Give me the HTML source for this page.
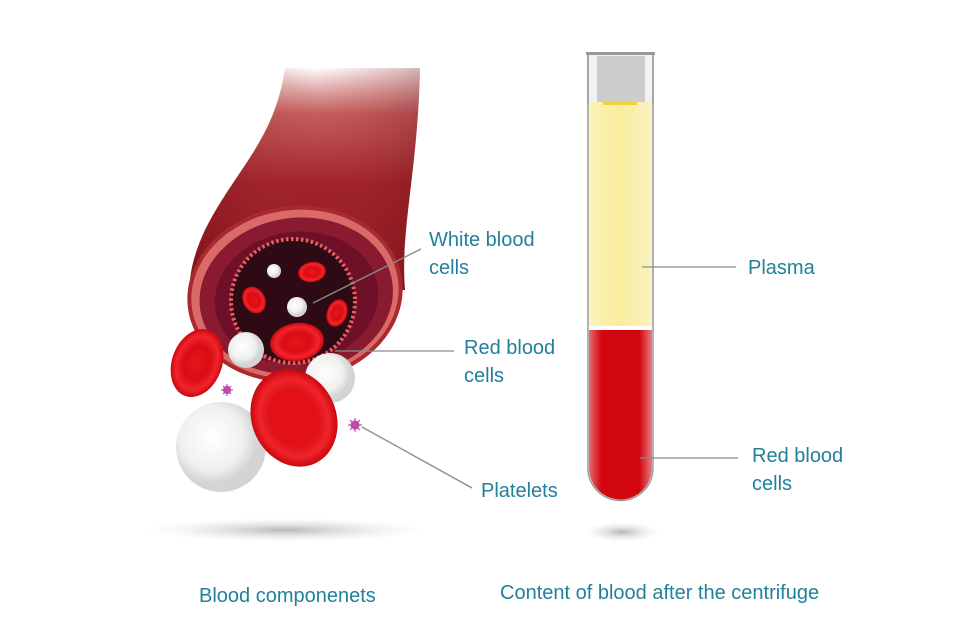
<!DOCTYPE html>
<html><head><meta charset="utf-8"><style>
html,body{margin:0;padding:0;background:#fff;}
svg{display:block}
text{font-family:"Liberation Sans",sans-serif;fill:#22809a;font-size:20px}
</style></head><body>
<svg width="960" height="638" viewBox="0 0 960 638" xmlns="http://www.w3.org/2000/svg">
<defs>
<linearGradient id="vfade" x1="0" y1="0" x2="0" y2="1">
<stop offset="0" stop-color="#fff" stop-opacity="1"/>
<stop offset="0.2" stop-color="#b84040" stop-opacity="0.85"/>
<stop offset="0.5" stop-color="#a0222a"/>
<stop offset="1" stop-color="#88161e"/>
</linearGradient>
<linearGradient id="vside" x1="0" y1="0" x2="1" y2="0">
<stop offset="0" stop-color="#6e0c14" stop-opacity="0.7"/>
<stop offset="0.55" stop-color="#c0403a" stop-opacity="0"/>
<stop offset="1" stop-color="#6e0c14" stop-opacity="0.5"/>
</linearGradient>
<radialGradient id="shadow"><stop offset="0" stop-color="#999" stop-opacity="0.7"/><stop offset="1" stop-color="#ddd" stop-opacity="0"/></radialGradient>
<radialGradient id="rbc"><stop offset="0" stop-color="#e8161c"/><stop offset="0.5" stop-color="#d80c14"/><stop offset="0.8" stop-color="#f0242a"/><stop offset="1" stop-color="#c8080f"/></radialGradient>
<radialGradient id="wbc" cx="0.4" cy="0.4"><stop offset="0" stop-color="#fff"/><stop offset="0.7" stop-color="#f0f0ee"/><stop offset="1" stop-color="#d4d4d4"/></radialGradient>
<linearGradient id="yel" x1="0" x2="1"><stop offset="0" stop-color="#fbf3b8"/><stop offset="0.5" stop-color="#f8ec9c"/><stop offset="1" stop-color="#fbf3c4"/></linearGradient>
<linearGradient id="red" x1="0" x2="1"><stop offset="0" stop-color="#e86a70"/><stop offset="0.2" stop-color="#d2060f"/><stop offset="0.8" stop-color="#d2060f"/><stop offset="1" stop-color="#e87a80"/></linearGradient>
</defs>

<ellipse cx="285" cy="530" rx="140" ry="12" fill="url(#shadow)"/>
<ellipse cx="622" cy="532" rx="38" ry="10" fill="url(#shadow)"/>

<path d="M285,68 C275,140 235,170 205,230 C192,258 188,280 190,300 L405,290 C400,230 418,170 420,68 Z" fill="url(#vfade)"/>
<path d="M285,68 C275,140 235,170 205,230 C192,258 188,280 190,300 L405,290 C400,230 418,170 420,68 Z" fill="url(#vside)" opacity="0.6"/>
<g transform="rotate(-8 295 294)">
<ellipse cx="295" cy="294" rx="108" ry="88" fill="#a82a30"/>
<ellipse cx="295" cy="294" rx="104" ry="84" fill="#d96a68"/>
<ellipse cx="296" cy="296" rx="97" ry="78" fill="#8a1a30"/>
<ellipse cx="296" cy="298" rx="82" ry="66" fill="#6e1028"/>
</g>
<circle cx="293" cy="301" r="62" fill="#2e0a14"/>
<circle cx="293" cy="301" r="62" fill="none" stroke="#e8605e" stroke-width="4" stroke-dasharray="2.5 2.5"/>
<circle cx="274" cy="271" r="7" fill="url(#wbc)"/>
<ellipse cx="312" cy="272" rx="14" ry="10" fill="url(#rbc)" transform="rotate(-10 312 272)"/>
<ellipse cx="254" cy="300" rx="11" ry="14" fill="url(#rbc)" transform="rotate(-30 254 300)"/>
<circle cx="297" cy="307" r="10" fill="url(#wbc)"/>
<ellipse cx="337" cy="313" rx="10" ry="14" fill="url(#rbc)" transform="rotate(20 337 313)"/>

<circle cx="330" cy="378" r="25" fill="url(#wbc)"/>
<ellipse cx="297" cy="342" rx="27" ry="19" fill="url(#rbc)" transform="rotate(-8 297 342)"/>
<circle cx="246" cy="350" r="18" fill="url(#wbc)"/>
<ellipse cx="197" cy="363" rx="25" ry="35" fill="url(#rbc)" transform="rotate(20 197 363)"/>
<circle cx="221" cy="447" r="45" fill="url(#wbc)"/>
<ellipse cx="294" cy="418" rx="42" ry="50" fill="url(#rbc)" transform="rotate(-25 294 418)"/>
<ellipse cx="294" cy="418" rx="24" ry="30" fill="#e41018" transform="rotate(-25 294 418)"/>
<g fill="#b03a9a" stroke="#c050b0" stroke-width="1.2">
<circle cx="227" cy="390" r="3.5"/>
<path d="M221,390 L233,390 M227,384 L227,396 M223,386 L231,394 M231,386 L223,394"/>
<circle cx="355" cy="425" r="4"/>
<path d="M348,425 L362,425 M355,418 L355,432 M350,420 L360,430 M360,420 L350,430"/>
</g>

<rect x="588" y="53" width="65" height="50" fill="#f2f2f2" stroke="#aaa" stroke-width="1.5"/>
<rect x="597" y="56" width="48" height="46" fill="#cdcdcd"/>
<rect x="586" y="52" width="69" height="3" fill="#999"/>
<rect x="589" y="102" width="63" height="226" fill="url(#yel)"/>
<rect x="603" y="102" width="34" height="3" fill="#f0d240"/>
<rect x="589" y="326" width="63" height="4" fill="#fff"/>
<path d="M589,330 L652,330 L652,468 A31.5,31.5 0 0 1 589,468 Z" fill="url(#red)"/>
<path d="M588,53 L588,468 A32.5,32.5 0 0 0 653,468 L653,53" fill="none" stroke="#9a9a9a" stroke-width="1.5"/>

<g stroke="#8a8a8a" stroke-width="1.3" fill="none">
<line x1="313" y1="303" x2="421" y2="249"/>
<line x1="335" y1="351" x2="454" y2="351"/>
<line x1="362" y1="427" x2="472" y2="488"/>
<line x1="642" y1="267" x2="736" y2="267"/>
<line x1="640" y1="458" x2="738" y2="458"/>
</g>

<text x="429" y="246">White blood</text>
<text x="429" y="274">cells</text>
<text x="464" y="354">Red blood</text>
<text x="464" y="382">cells</text>
<text x="481" y="497">Platelets</text>
<text x="748" y="274">Plasma</text>
<text x="752" y="462">Red blood</text>
<text x="752" y="490">cells</text>
<text x="199" y="602">Blood componenets</text>
<text x="500" y="599">Content of blood after the centrifuge</text>
</svg>
</body></html>
